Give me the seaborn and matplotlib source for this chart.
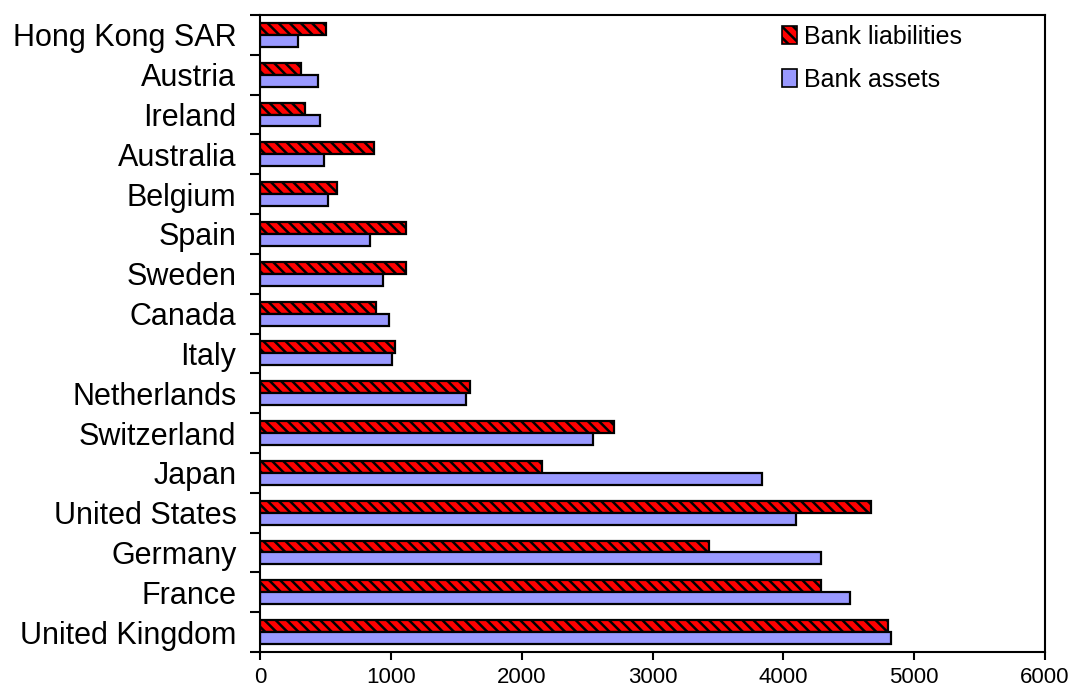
import numpy as np
import pandas as pd
import seaborn as sns
import matplotlib.pyplot as plt
from matplotlib.patches import Patch
from matplotlib.ticker import FixedLocator

# Cross-border bank positions by country
countries = [
    "Hong Kong SAR", "Austria", "Ireland", "Australia", "Belgium", "Spain",
    "Sweden", "Canada", "Italy", "Netherlands", "Switzerland", "Japan",
    "United States", "Germany", "France", "United Kingdom",
]
liabilities = [507, 316, 344, 869, 591, 1116, 1116, 887, 1030, 1605,
               2706, 2156, 4669, 3433, 4290, 4799]
assets = [288, 446, 459, 492, 520, 838, 938, 986, 1012, 1575,
          2543, 3838, 4096, 4287, 4508, 4826]
series_names = ["Bank liabilities", "Bank assets"]
x_ticks = [0, 1000, 2000, 3000, 4000, 5000, 6000]

n = len(countries)
df = pd.DataFrame({
    "Country": countries * 2,
    "Value": liabilities + assets,
    "Series": [series_names[0]] * n + [series_names[1]] * n,
})

sns.set_style("white")
plt.rcParams["font.family"] = ["Liberation Sans", "DejaVu Sans"]
plt.rcParams["hatch.linewidth"] = 1.8
plt.rcParams["hatch.color"] = "black"
plt.rcParams["text.color"] = "black"

red = "#ff0000"
lilac = "#9999ff"
hatch = "\\\\\\"

fig = plt.figure(figsize=(10.78, 6.9), dpi=100)
ax = fig.add_axes([260 / 1078, 1 - 652 / 690, 785 / 1078, 637 / 690])

sns.barplot(
    data=df, y="Country", x="Value", hue="Series", hue_order=series_names,
    order=countries, palette={series_names[0]: red, series_names[1]: lilac},
    orient="h", width=0.6, edgecolor="black", linewidth=1.6,
    saturation=1, legend=False, ax=ax,
)
for bar in ax.containers[0]:
    bar.set_hatch(hatch)

ax.set_xlim(0, 6000)
ax.set_ylim(n - 0.5, -0.5)
ax.xaxis.set_major_locator(FixedLocator(x_ticks))
ax.set_xticklabels([str(t) for t in x_ticks], fontsize=16)
ax.tick_params(axis="x", which="major", direction="out", length=6, width=1.5,
               bottom=True, pad=5, colors="black", labelcolor="black")

# category labels centred on slots, tick marks on slot boundaries
ax.tick_params(axis="y", which="major", length=0, pad=17, labelsize=22,
               labelcolor="black")
ax.yaxis.set_minor_locator(FixedLocator(np.arange(-0.5, n, 1.0)))
ax.tick_params(axis="y", which="minor", direction="out", length=7, width=1.5,
               left=True, color="black")
ax.set_xlabel("")
ax.set_ylabel("")
for side in ax.spines.values():
    side.set_visible(True)
    side.set_color("black")
    side.set_linewidth(1.5)

handles = [
    Patch(facecolor=red, edgecolor="black", hatch=hatch, linewidth=1.2),
    Patch(facecolor=lilac, edgecolor="black", linewidth=1.2),
]
leg = ax.legend(handles, series_names, loc="upper left",
                bbox_to_anchor=(0.652, 1.0), frameon=False, fontsize=18,
                handlelength=0.6, handleheight=0.75, handletextpad=0.3,
                labelspacing=0.75, borderaxespad=0)
for t in leg.get_texts():
    t.set_color("black")

fig.savefig("out.png", dpi=100)
